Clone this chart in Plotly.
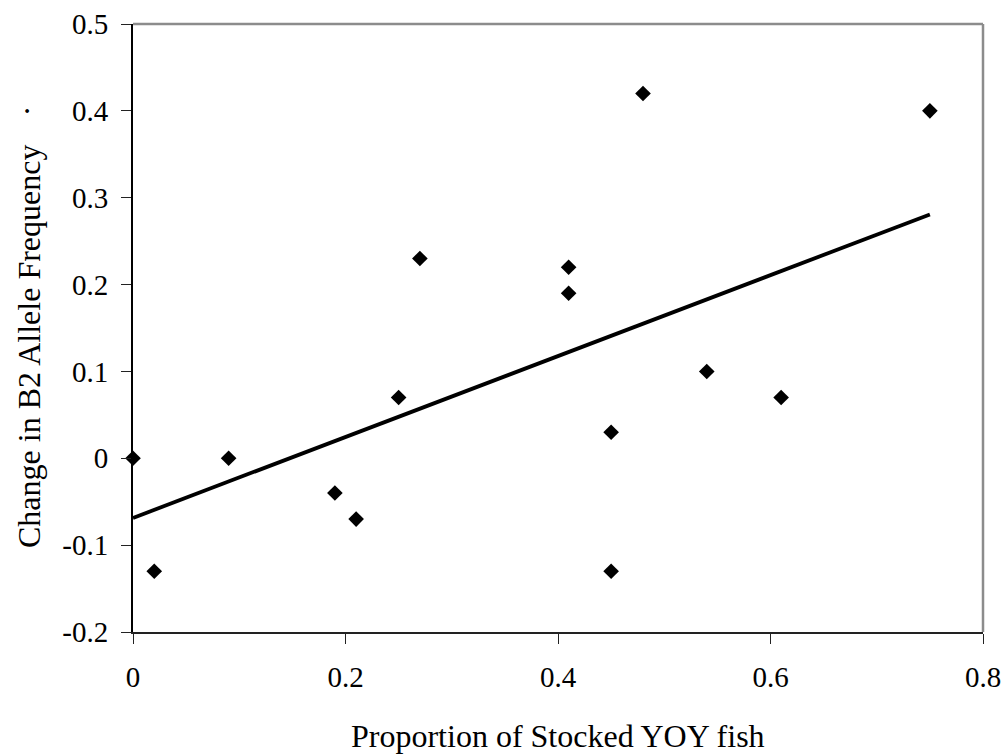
import numpy as np
import plotly.graph_objects as go

# Proportion of stocked young-of-year fish vs. change in B2 allele frequency
prop_stocked = [0.00, 0.02, 0.09, 0.19, 0.21, 0.25, 0.27, 0.41, 0.41, 0.45, 0.45, 0.48, 0.54, 0.61, 0.75]
b2_change = [0.00, -0.13, 0.00, -0.04, -0.07, 0.07, 0.23, 0.22, 0.19, 0.03, -0.13, 0.42, 0.10, 0.07, 0.40]

x_ticks = [0, 0.2, 0.4, 0.6, 0.8]
y_ticks = [-0.2, -0.1, 0, 0.1, 0.2, 0.3, 0.4, 0.5]

# Least-squares linear trend
slope, intercept = np.polyfit(prop_stocked, b2_change, 1)
trend_x = [min(prop_stocked), max(prop_stocked)]
trend_y = [intercept + slope * v for v in trend_x]

font_family = "Liberation Serif, Times New Roman, serif"

# Plot area in pixels
L, R, T, B = 133, 983, 24, 632
W, H = 1008, 755
pw, ph = R - L, B - T

fig = go.Figure()
fig.add_trace(go.Scatter(
    x=trend_x, y=trend_y, mode="lines",
    line=dict(color="black", width=3.8),
    hoverinfo="skip", showlegend=False,
))
fig.add_trace(go.Scatter(
    x=prop_stocked, y=b2_change, mode="markers",
    marker=dict(symbol="diamond", size=12, color="black", line=dict(width=0)),
    showlegend=False, cliponaxis=False,
))

fig.update_layout(
    width=W, height=H,
    margin=dict(l=L, r=W - R, t=T, b=H - B, autoexpand=False),
    paper_bgcolor="white", plot_bgcolor="white",
    font=dict(family=font_family, size=29, color="black"),
)
fig.update_xaxes(
    range=[0, 0.8], tickvals=x_ticks, ticktext=[f"{v:g}" for v in x_ticks],
    tickfont=dict(family=font_family, size=29, color="black"),
    showgrid=False, zeroline=False, automargin=False,
    showline=True, linecolor="#222222", linewidth=2,
    ticks="outside", ticklen=10, tickwidth=1, tickcolor="#222222",
    ticklabelstandoff=8,
)
fig.update_yaxes(
    range=[-0.2, 0.5], tickvals=y_ticks, ticktext=[f"{v:g}" for v in y_ticks],
    tickfont=dict(family=font_family, size=29, color="black"),
    showgrid=False, zeroline=False, automargin=False,
    showline=True, linecolor="black", linewidth=2,
    ticks="outside", ticklen=10, tickwidth=1, tickcolor="#222222",
    ticklabelstandoff=7,
)

# Light grey top and right frame edges
fig.add_shape(type="line", xref="paper", yref="paper", x0=0, x1=1, y0=1, y1=1,
              line=dict(color="#8c8c8c", width=2.5))
fig.add_shape(type="line", xref="paper", yref="paper", x0=1, x1=1, y0=0, y1=1,
              line=dict(color="#8c8c8c", width=2.5))

# Axis titles
fig.add_annotation(text="Proportion of Stocked YOY fish", xref="paper", yref="paper",
                   x=0.5, y=(B - 736) / ph, xanchor="center", yanchor="middle",
                   showarrow=False, font=dict(family=font_family, size=32, color="black"))
fig.add_annotation(text="Change in B2 Allele Frequency", xref="paper", yref="paper",
                   x=(29 - L) / pw, y=(B - 347) / ph, xanchor="center", yanchor="middle",
                   showarrow=False, textangle=-90,
                   font=dict(family=font_family, size=32, color="black"))
# Stray period beside the y-axis title
fig.add_annotation(text=".", xref="paper", yref="paper",
                   x=(18 - L) / pw, y=(B - 111) / ph, xanchor="center", yanchor="middle",
                   showarrow=False, textangle=-90,
                   font=dict(family=font_family, size=32, color="black"))

fig.write_html("out.html")
